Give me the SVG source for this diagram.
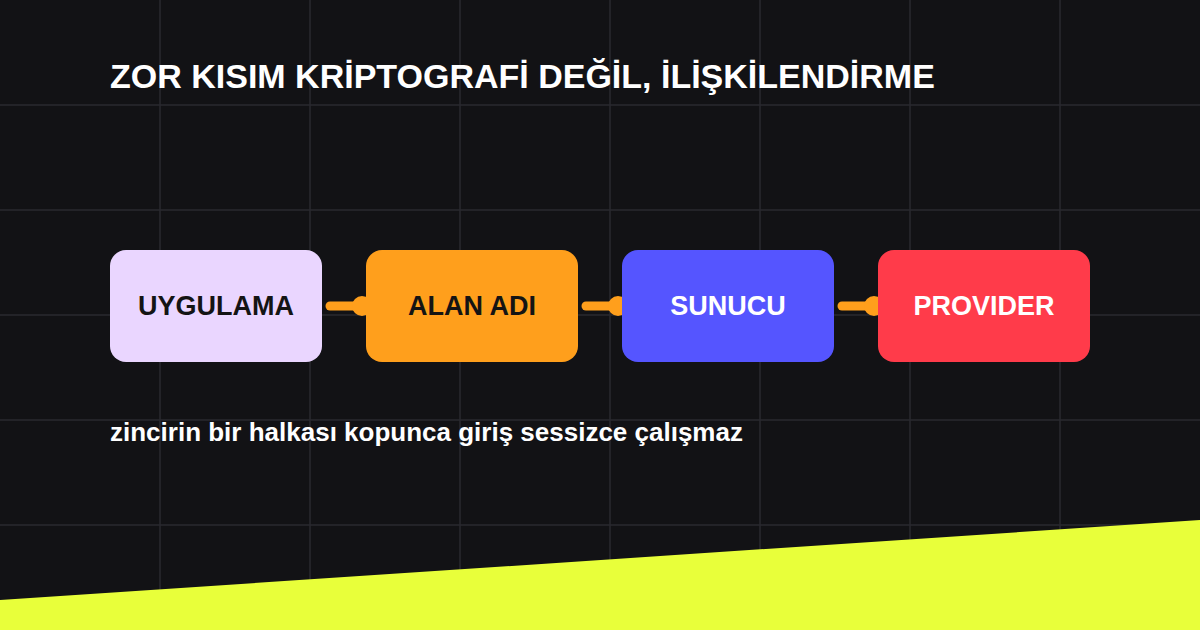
<svg xmlns="http://www.w3.org/2000/svg" width="1200" height="630" viewBox="0 0 1200 630">
  <style>
    .grid line { stroke: #2a2a2f; stroke-width: 1.5; }
    .box-text { font-family: "Liberation Sans", Arial, sans-serif; font-weight: bold; font-size: 27px; text-anchor: middle; }
    .title { font-family: "Liberation Sans", Arial, sans-serif; font-weight: bold; font-size: 34px; fill: #ffffff; }
    .sub { font-family: "Liberation Sans", Arial, sans-serif; font-weight: bold; font-size: 26px; fill: #ffffff; }
    .conn line { stroke: #ff9f1c; stroke-width: 9; stroke-linecap: round; }
    .conn circle { fill: #ff9f1c; }
  </style>
  <rect x="0" y="0" width="1200" height="630" fill="#121215"/>
  <g class="grid">
    <line x1="160" y1="0" x2="160" y2="630"/>
    <line x1="310" y1="0" x2="310" y2="630"/>
    <line x1="460" y1="0" x2="460" y2="630"/>
    <line x1="610" y1="0" x2="610" y2="630"/>
    <line x1="760" y1="0" x2="760" y2="630"/>
    <line x1="910" y1="0" x2="910" y2="630"/>
    <line x1="1060" y1="0" x2="1060" y2="630"/>
    <line x1="0" y1="105" x2="1200" y2="105"/>
    <line x1="0" y1="210" x2="1200" y2="210"/>
    <line x1="0" y1="315" x2="1200" y2="315"/>
    <line x1="0" y1="420" x2="1200" y2="420"/>
    <line x1="0" y1="525" x2="1200" y2="525"/>
  </g>
  <polygon points="0,600 1200,520 1200,630 0,630" fill="#e8ff3a"/>
  <text class="title" x="110" y="88">ZOR KISIM KRİPTOGRAFİ DEĞİL, İLİŞKİLENDİRME</text>
  <g id="connectors" class="conn">
    <line x1="330" y1="306" x2="360" y2="306"/>
    <circle cx="362" cy="306" r="10"/>
    <line x1="586" y1="306" x2="616" y2="306"/>
    <circle cx="618" cy="306" r="10"/>
    <line x1="842" y1="306" x2="872" y2="306"/>
    <circle cx="874" cy="306" r="10"/>
  </g>
  <g id="node-uygulama">
    <rect x="110" y="250" width="212" height="112" rx="16" fill="#ead6ff"/>
    <text class="box-text" x="216" y="315" fill="#141414">UYGULAMA</text>
  </g>
  <g id="node-alan-adi">
    <rect x="366" y="250" width="212" height="112" rx="16" fill="#ff9f1c"/>
    <text class="box-text" x="472" y="315" fill="#141414">ALAN ADI</text>
  </g>
  <g id="node-sunucu">
    <rect x="622" y="250" width="212" height="112" rx="16" fill="#5555ff"/>
    <text class="box-text" x="728" y="315" fill="#ffffff">SUNUCU</text>
  </g>
  <g id="node-provider">
    <rect x="878" y="250" width="212" height="112" rx="16" fill="#ff3b4a"/>
    <text class="box-text" x="984" y="315" fill="#ffffff">PROVIDER</text>
  </g>
  <text class="sub" x="110" y="441">zincirin bir halkası kopunca giriş sessizce çalışmaz</text>
</svg>
